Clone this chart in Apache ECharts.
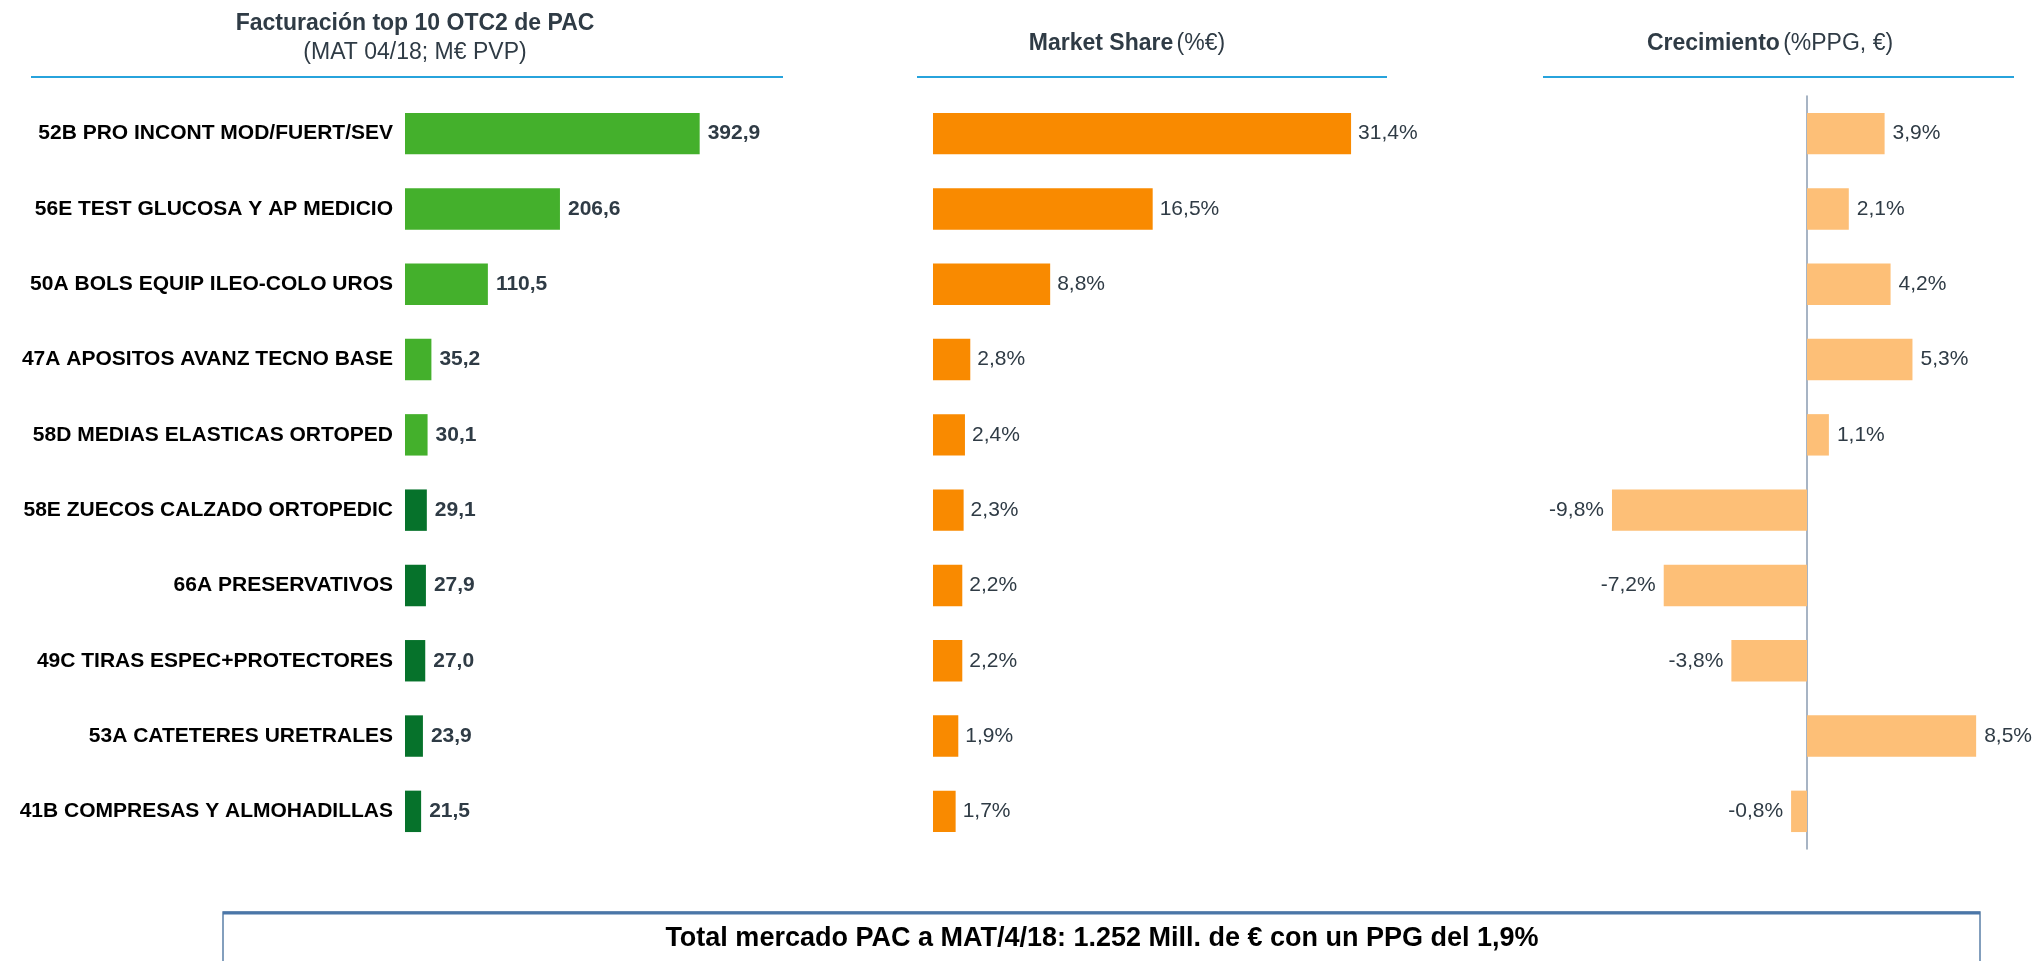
<!DOCTYPE html>
<html lang="es">
<head>
    <meta charset="UTF-8">
    <title>Top 10 OTC2 PAC</title>
    <style>
        html, body { margin: 0; padding: 0; background: #fff; }
        #main { width: 2034px; height: 961px; }
    </style>
</head>
<body>
<div id="main"></div>
<script src="https://cdn.jsdelivr.net/npm/echarts@6/dist/echarts.min.js"></script>
<script>
    // datos
    var categorias = [
        '52B PRO INCONT MOD/FUERT/SEV',
        '56E TEST GLUCOSA Y AP MEDICIO',
        '50A BOLS EQUIP ILEO-COLO UROS',
        '47A APOSITOS AVANZ TECNO BASE',
        '58D MEDIAS ELASTICAS ORTOPED',
        '58E ZUECOS CALZADO ORTOPEDIC',
        '66A PRESERVATIVOS',
        '49C TIRAS ESPEC+PROTECTORES',
        '53A CATETERES URETRALES',
        '41B COMPRESAS Y ALMOHADILLAS'
    ];
    var facturacion = [392.9, 206.6, 110.5, 35.2, 30.1, 29.1, 27.9, 27.0, 23.9, 21.5];
    var marketShare = [31.4, 16.5, 8.8, 2.8, 2.4, 2.3, 2.2, 2.2, 1.9, 1.7];
    var crecimiento = [3.9, 2.1, 4.2, 5.3, 1.1, -9.8, -7.2, -3.8, 8.5, -0.8];

    var FONT = '"Liberation Sans", Arial, sans-serif';
    var TXT = '#2f3b45';

    function coma(v, dec) {
        return v.toFixed(dec).replace('.', ',');
    }

    var myChart = echarts.init(document.getElementById('main'));

    var rowTop = 96, rowBottom = 961 - 849;

    var option = {
        backgroundColor: '#ffffff',
        animation: false,
        grid: [
            { left: 405, width: 300, top: rowTop, bottom: rowBottom },
            { left: 933, width: 466, top: rowTop, bottom: rowBottom },
            { left: 1608, width: 398, top: rowTop, bottom: rowBottom }
        ],
        xAxis: [
            { gridIndex: 0, type: 'value', min: 0, max: 400, show: false },
            { gridIndex: 1, type: 'value', min: 0, max: 35, show: false },
            { gridIndex: 2, type: 'value', min: -10, max: 10, show: false }
        ],
        yAxis: [
            {
                gridIndex: 0, type: 'category', data: categorias, inverse: true,
                axisLine: { show: false }, axisTick: { show: false },
                axisLabel: {
                    margin: 12, color: '#000', fontFamily: FONT,
                    fontWeight: 'bold', fontSize: 21
                }
            },
            {
                gridIndex: 1, type: 'category', data: categorias, inverse: true,
                show: false
            },
            {
                gridIndex: 2, type: 'category', data: categorias, inverse: true,
                axisLine: { show: true, onZero: true, lineStyle: { color: '#8a9bb0', width: 1.5 } },
                axisTick: { show: false },
                axisLabel: { show: false }
            }
        ],
        series: [
            {
                type: 'bar', xAxisIndex: 0, yAxisIndex: 0,
                data: facturacion, barCategoryGap: '45%',
                itemStyle: {
                    color: function (p) { return p.dataIndex < 5 ? '#44b02c' : '#06722b'; }
                },
                label: {
                    show: true, position: 'right', distance: 8,
                    color: TXT, fontFamily: FONT, fontWeight: 'bold', fontSize: 21,
                    formatter: function (p) { return coma(p.value, 1); }
                }
            },
            {
                type: 'bar', xAxisIndex: 1, yAxisIndex: 1,
                data: marketShare, barCategoryGap: '45%',
                itemStyle: { color: '#f98a00' },
                label: {
                    show: true, position: 'right', distance: 7,
                    color: TXT, fontFamily: FONT, fontSize: 21,
                    formatter: function (p) { return coma(p.value, 1) + '%'; }
                }
            },
            {
                type: 'bar', xAxisIndex: 2, yAxisIndex: 2,
                data: crecimiento.map(function (v) {
                    return { value: v, label: { position: v < 0 ? 'left' : 'right' } };
                }),
                barCategoryGap: '45%',
                itemStyle: { color: '#fdbf77' },
                label: {
                    show: true, distance: 8,
                    color: TXT, fontFamily: FONT, fontSize: 21,
                    formatter: function (p) { return coma(p.value, 1) + '%'; }
                }
            }
        ],
        graphic: [
            // titulos
            {
                type: 'text', z: 10,
                style: {
                    x: 415, y: 24, align: 'center', verticalAlign: 'middle',
                    text: 'Facturación top 10 OTC2 de PAC',
                    fill: TXT, font: 'bold 23px ' + FONT
                }
            },
            {
                type: 'text', z: 10,
                style: {
                    x: 415, y: 53, align: 'center', verticalAlign: 'middle',
                    text: '(MAT 04/18; M€ PVP)',
                    fill: TXT, font: '23px ' + FONT
                }
            },
            {
                type: 'text', z: 10,
                style: {
                    x: 1127, y: 44, align: 'center', verticalAlign: 'middle',
                    text: '{b|Market Share} {n|(%€)}',
                    rich: {
                        b: { fill: TXT, font: 'bold 23px ' + FONT },
                        n: { fill: TXT, font: '23px ' + FONT }
                    }
                }
            },
            {
                type: 'text', z: 10,
                style: {
                    x: 1770, y: 44, align: 'center', verticalAlign: 'middle',
                    text: '{b|Crecimiento} {n|(%PPG, €)}',
                    rich: {
                        b: { fill: TXT, font: 'bold 23px ' + FONT },
                        n: { fill: TXT, font: '23px ' + FONT }
                    }
                }
            },
            // lineas azules bajo los titulos
            { type: 'line', shape: { x1: 31, y1: 77, x2: 783, y2: 77 }, style: { stroke: '#27a3dc', lineWidth: 2 } },
            { type: 'line', shape: { x1: 917, y1: 77, x2: 1387, y2: 77 }, style: { stroke: '#27a3dc', lineWidth: 2 } },
            { type: 'line', shape: { x1: 1543, y1: 77, x2: 2014, y2: 77 }, style: { stroke: '#27a3dc', lineWidth: 2 } },
            // caja inferior
            {
                type: 'rect', shape: { x: 223, y: 912, width: 1757, height: 70 },
                style: { fill: '#fff', stroke: '#5b80a8', lineWidth: 1.5 }
            },
            { type: 'line', shape: { x1: 223, y1: 913, x2: 1980, y2: 913 }, style: { stroke: '#4a76a8', lineWidth: 3 } },
            {
                type: 'text', z: 10,
                style: {
                    x: 1102, y: 939, align: 'center', verticalAlign: 'middle',
                    text: 'Total mercado PAC a MAT/4/18: 1.252 Mill. de € con un PPG del 1,9%',
                    fill: '#000', font: 'bold 27px ' + FONT
                }
            }
        ]
    };

    myChart.setOption(option);
</script>
</body>
</html>
